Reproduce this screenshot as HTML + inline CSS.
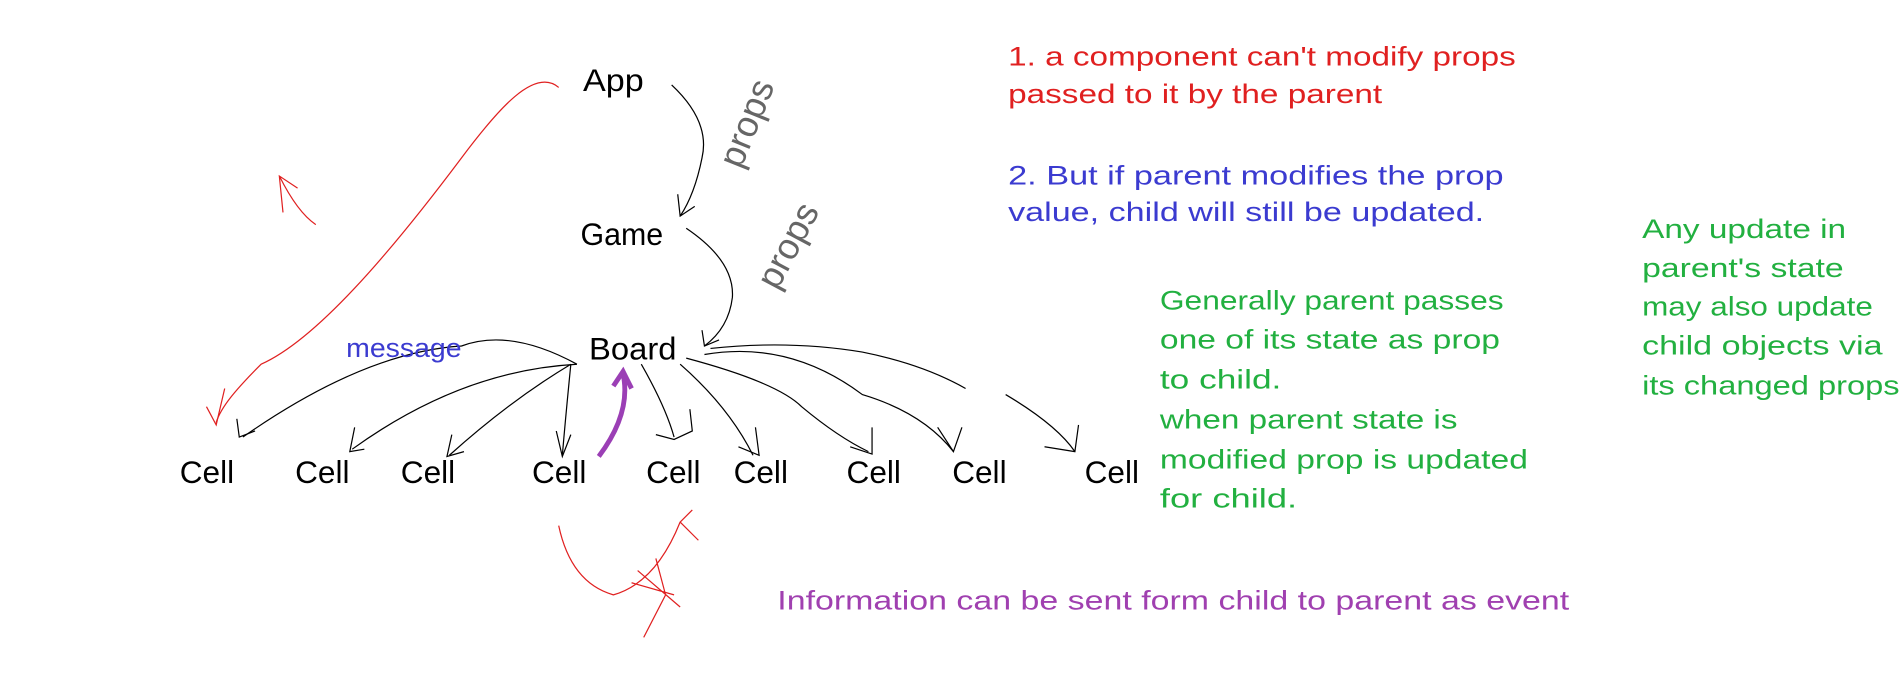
<!DOCTYPE html>
<html><head><meta charset="utf-8"><style>
html,body{margin:0;padding:0;background:#fff;}
svg{display:block;}
text{font-family:"Liberation Sans Narrow","Liberation Sans",sans-serif;}
</style></head><body>
<svg width="1902" height="692" viewBox="0 0 1566 570" preserveAspectRatio="none" xmlns="http://www.w3.org/2000/svg">
<g fill="none" stroke="#000" stroke-width="1">
<path d="M553,70 Q585,100 578,130 Q572,160 560,178"/>
<path d="M558,160 L560,178 L572,170"/>
<path d="M565,188 Q605,215 603,245 Q600,270 580,285"/>
<path d="M578,272 L580,285 L592,280"/>
<path d="M475,300 Q420,270 380,285 Q300,290 200,360"/><path d="M195,345 L197,360 L210,355"/>
<path d="M475,300 Q380,305 290,370"/><path d="M292,352 L288,372 L300,370"/>
<path d="M470,300 Q420,330 370,375"/><path d="M372,358 L368,376 L382,372"/>
<path d="M470,300 Q466,340 463,375"/><path d="M458,355 L463,376 L470,358"/>
<path d="M528,300 Q548,335 555,360"/><path d="M540,358 L555,362 L570,355 L568,337"/>
<path d="M560,300 Q600,335 620,375"/><path d="M608,368 L625,375 L622,352"/>
<path d="M565,295 Q640,315 660,335 Q690,360 715,372"/><path d="M700,368 L718,374 L718,352"/>
<path d="M580,292 Q650,280 710,325 Q760,340 785,372"/><path d="M772,352 L785,372 L792,352"/>
<path d="M585,287 Q650,280 710,290 Q760,300 795,320"/>
<path d="M828,325 Q870,350 885,372"/><path d="M860,368 L885,372 L888,350"/>
</g>
<text x="610" y="140" font-size="30" fill="#666" transform="rotate(-68 610 140)">props</text>
<text x="640" y="240" font-size="30" fill="#666" transform="rotate(-62 640 240)">props</text>
<g fill="none" stroke="#e02020" stroke-width="1">
<path d="M460,72 C440,55 410,90 380,130 C320,210 260,280 215,300 C195,320 182,335 178,348"/>
<path d="M170,335 L178,350 L185,320"/>
<path d="M233,175 L230,145 L245,155 M230,145 Q245,175 260,185"/>
<path d="M460,433 Q470,480 505,490 Q540,480 560,430 L570,420 M560,430 L575,445 M540,460 L548,490 L530,525 M525,470 L560,500 M520,480 L555,490"/>
</g>
<g fill="none" stroke="#9b3fb5" stroke-width="4">
<path d="M493,376 Q520,340 513,308"/><path d="M505,318 L513,306 L520,320"/>
</g>
<g font-size="26" fill="#000">
<text x="480" y="75" textLength="50" lengthAdjust="spacingAndGlyphs">App</text>
<text x="478" y="202" textLength="68" lengthAdjust="spacingAndGlyphs">Game</text>
<text x="485" y="296" textLength="72" lengthAdjust="spacingAndGlyphs">Board</text>
<text x="148" y="398">Cell</text>
<text x="243" y="398">Cell</text>
<text x="330" y="398">Cell</text>
<text x="438" y="398">Cell</text>
<text x="532" y="398">Cell</text>
<text x="604" y="398">Cell</text>
<text x="697" y="398">Cell</text>
<text x="784" y="398">Cell</text>
<text x="893" y="398">Cell</text>
</g>
<text x="285" y="294" font-size="22" fill="#3b3bd0" textLength="95" lengthAdjust="spacingAndGlyphs">message</text>
<g font-size="22" fill="#e02020" lengthAdjust="spacingAndGlyphs">
<text x="830" y="54" textLength="418" lengthAdjust="spacingAndGlyphs">1. a component  can't modify props</text>
<text x="830" y="85" textLength="308" lengthAdjust="spacingAndGlyphs">passed to it by the parent</text>
</g>
<g font-size="22" fill="#3b3bd0">
<text x="830" y="152" textLength="408" lengthAdjust="spacingAndGlyphs">2. But if parent modifies the prop</text>
<text x="830" y="182" textLength="392" lengthAdjust="spacingAndGlyphs">value, child will still be updated.</text>
</g>
<g font-size="22" fill="#22b040">
<text x="955" y="255" textLength="283" lengthAdjust="spacingAndGlyphs">Generally parent passes</text>
<text x="955" y="287" textLength="280" lengthAdjust="spacingAndGlyphs">one of its state as prop</text>
<text x="955" y="320" textLength="100" lengthAdjust="spacingAndGlyphs">to child.</text>
<text x="955" y="353" textLength="245" lengthAdjust="spacingAndGlyphs">when parent state is</text>
<text x="955" y="386" textLength="303" lengthAdjust="spacingAndGlyphs">modified prop is updated</text>
<text x="955" y="418" textLength="113" lengthAdjust="spacingAndGlyphs">for child.</text>
<text x="1352" y="196" textLength="168" lengthAdjust="spacingAndGlyphs">Any update in</text>
<text x="1352" y="228" textLength="166" lengthAdjust="spacingAndGlyphs">parent's state</text>
<text x="1352" y="260" textLength="190" lengthAdjust="spacingAndGlyphs">may also update</text>
<text x="1352" y="292" textLength="198" lengthAdjust="spacingAndGlyphs">child objects via</text>
<text x="1352" y="325" textLength="212" lengthAdjust="spacingAndGlyphs">its changed props</text>
</g>
<text x="640" y="502" font-size="22" fill="#a040b0" textLength="652" lengthAdjust="spacingAndGlyphs">Information can be sent form child to parent as event</text>
</svg>
</body></html>
